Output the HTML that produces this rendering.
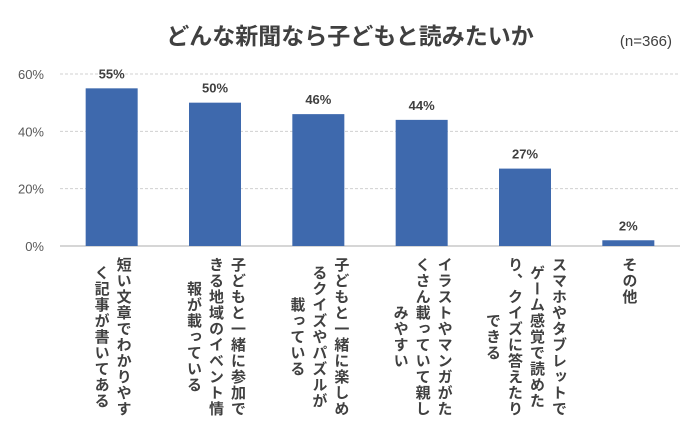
<!DOCTYPE html>
<html><head><meta charset="utf-8">
<style>
body{margin:0;background:#fff;font-family:"Liberation Sans","Noto Sans CJK JP",sans-serif;}
#wrap{position:relative;width:700px;height:437px;overflow:hidden;}
.cat{position:absolute;top:257px;writing-mode:vertical-rl;font-size:15px;font-weight:bold;color:#404040;line-height:22px;letter-spacing:1px;text-align:center;}
</style></head><body>
<div id="wrap">
<svg id="svg" width="700" height="437" style="position:absolute;left:0;top:0">
<text x="350" y="44" text-anchor="middle" font-size="23" font-weight="bold" fill="#404040" font-family="Liberation Sans, Noto Sans CJK JP, sans-serif">どんな新聞なら子どもと読みたいか</text>
<text x="672" y="46" text-anchor="end" font-size="15" fill="#404040" font-family="Liberation Sans, sans-serif">(n=366)</text>
<g id="grid"></g><g id="bars"></g>
</svg>
</div>
<script>
const categories=["短い文章でわかりやす\nく記事が書いてある","子どもと一緒に参加で\nきる地域のイベント情\n報が載っている","子どもと一緒に楽しめ\nるクイズやパズルが\n載っている","イラストやマンガがた\nくさん載っていて親し\nみやすい","スマホやタブレットで\nゲーム感覚で読めた\nり、クイズに答えたり\nできる","その他"];
const values=[55,50,46,44,27,2];
const ticks=[0,20,40,60];
const x0=60,x1=680,yBase=246,yTop=74,maxV=60;
const ns="http://www.w3.org/2000/svg";
const y=v=>yBase-(v/maxV)*(yBase-yTop);
const bw=(x1-x0)/categories.length;
const xc=i=>x0+bw*(i+0.5);
const grid=document.getElementById('grid'),bars=document.getElementById('bars'),wrap=document.getElementById('wrap');
ticks.forEach(t=>{
 const l=document.createElementNS(ns,'line');
 
 
 l.setAttribute('x1',x0);l.setAttribute('x2',x1);l.setAttribute('y1',y(t));l.setAttribute('y2',y(t));
 l.setAttribute('stroke',t===0?'#c8c8c8':'#d0d0d0');l.setAttribute('stroke-width',t===0?1.5:1);
 if(t!==0)l.setAttribute('stroke-dasharray','3,2');
 grid.appendChild(l);
 const tx=document.createElementNS(ns,'text');
 
 
 tx.setAttribute('x',44);tx.setAttribute('y',y(t)+5);tx.setAttribute('text-anchor','end');
 tx.setAttribute('font-size','13');tx.setAttribute('fill','#595959');tx.setAttribute('font-family','Liberation Sans, sans-serif');
 tx.textContent=t+'%';grid.appendChild(tx);
});
values.forEach((v,i)=>{
 const r=document.createElementNS(ns,'rect');
 
 
 r.setAttribute('x',xc(i)-26);r.setAttribute('width',52);r.setAttribute('y',y(v));r.setAttribute('height',yBase-y(v));
 r.setAttribute('fill','#3e69ad');bars.appendChild(r);
 const t=document.createElementNS(ns,'text');
 
 
 t.setAttribute('x',xc(i));t.setAttribute('y',y(v)-10);t.setAttribute('text-anchor','middle');
 t.setAttribute('font-size','13');t.setAttribute('font-weight','bold');t.setAttribute('fill','#404040');t.setAttribute('font-family','Liberation Sans, sans-serif');
 t.textContent=v+'%';bars.appendChild(t);
 const d=document.createElement('div');
 
 
 d.className='cat';d.innerHTML=categories[i].split('\n').join('<br>');
 wrap.appendChild(d);
 d.style.left=(xc(i)-d.offsetWidth/2)+'px';
});
</script>
</body></html>
